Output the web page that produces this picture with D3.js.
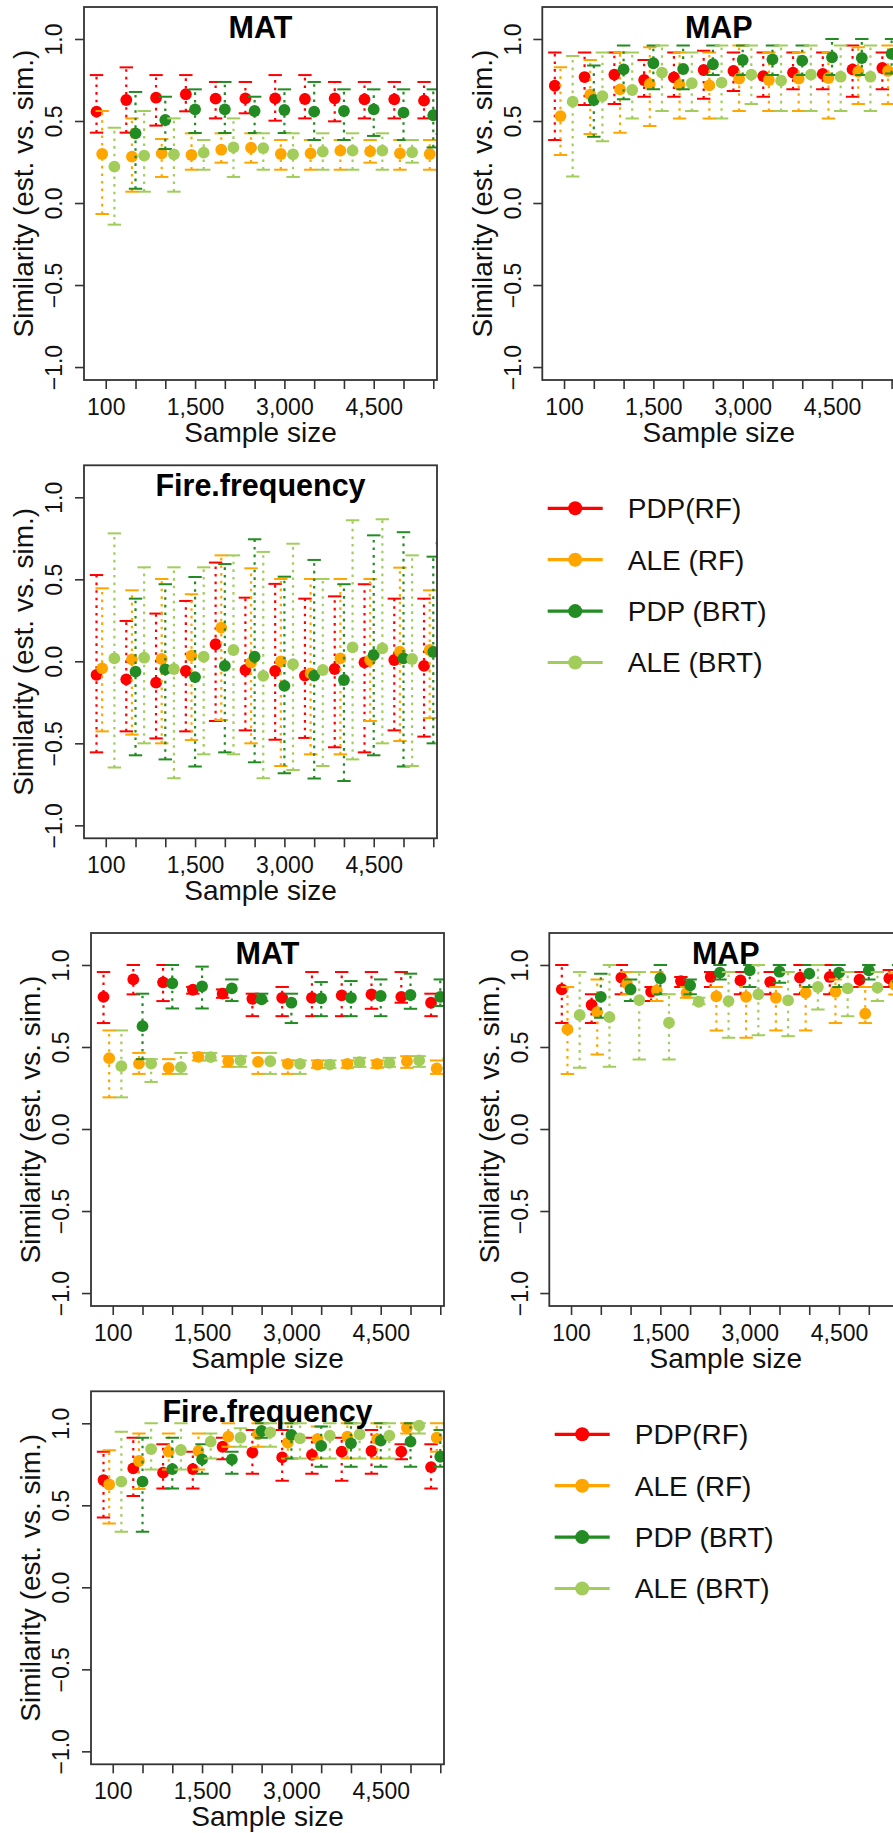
<!DOCTYPE html>
<html>
<head>
<meta charset="utf-8">
<script src="https://cdn.jsdelivr.net/npm/d3@7"></script>
<style>
  body { margin: 0; background: #fff; }
  svg { display: block; font-family: "Liberation Sans", Arial, sans-serif; }
</style>
</head>
<body>
<div class="chart"></div>
<script>
// x categories (one tick each, R only prints some of the labels)
var sampleSizes = [100, 500, 1000, 1500, 2000, 2500, 3000, 3500, 4000, 4500, 5000, 5500];
var labelledSizes = [100, 1500, 3000, 4500];
var yTicks = [-1, -0.5, 0, 0.5, 1];

var seriesNames = ["PDP(RF)", "ALE (RF)", "PDP (BRT)", "ALE (BRT)"];
var seriesColors = ["#ff0000", "#ffa500", "#228b22", "#a2cd5a"];
var seriesOffsets = [-0.31, -0.12, 0, 0.29];

// each entry: [mean, lower, upper] for one sample size, null = no value
// ---- first figure ----
var aMAT_pdpRF = [[0.557,0.429,0.78],[0.628,0.429,0.827],[0.642,0.472,0.78],[0.663,0.559,0.78],[0.636,0.516,0.738],[0.638,0.547,0.738],[0.638,0.502,0.78],[0.634,0.516,0.78],[0.638,0.498,0.738],[0.632,0.516,0.738],[0.632,0.516,0.738],[0.624,0.516,0.738]];
var aMAT_aleRF = [[0.299,-0.067,0.561],[0.283,0.069,0.516],[0.303,0.159,0.39],[0.293,0.203,0.425],[0.325,0.246,0.425],[0.337,0.246,0.425],[0.299,0.203,0.384],[0.303,0.203,0.384],[0.319,0.203,0.384],[0.315,0.246,0.384],[0.303,0.203,0.384],[0.299,0.203,0.384]];
var aMAT_pdpBRT = [null,[0.425,0.087,0.677],[0.506,0.329,0.648],[0.571,0.427,0.693],[0.571,0.427,0.738],[0.561,0.427,0.648],[0.567,0.427,0.693],[0.557,0.384,0.738],[0.561,0.384,0.693],[0.571,0.409,0.693],[0.551,0.384,0.693],[0.535,0.339,0.693]];
var aMAT_aleBRT = [[0.222,-0.132,0.459],[0.289,0.069,0.561],[0.297,0.069,0.516],[0.307,0.203,0.384],[0.339,0.159,0.516],[0.335,0.203,0.425],[0.297,0.159,0.425],[0.313,0.203,0.425],[0.319,0.203,0.425],[0.319,0.203,0.425],[0.309,0.246,0.384],[0.31,0.2,0.42]];

var aMAP_pdpRF = [[0.715,0.384,0.917],[0.768,0.598,0.917],[0.783,0.604,0.917],[0.75,0.648,0.872],[0.766,0.648,0.917],[0.811,0.636,0.929],[0.805,0.683,0.917],[0.774,0.648,0.917],[0.795,0.693,0.917],[0.787,0.693,0.917],[0.815,0.648,0.961],[0.823,0.693,0.917]];
var aMAP_aleRF = [[0.53,0.293,0.827],[0.661,0.42,0.872],[0.693,0.429,0.917],[0.726,0.47,0.949],[0.72,0.516,0.917],[0.717,0.516,0.917],[0.758,0.561,0.961],[0.75,0.561,0.917],[0.758,0.561,0.917],[0.762,0.516,0.917],[0.801,0.604,0.949],[0.805,0.604,0.961]];
var aMAP_pdpBRT = [null,[0.628,0.404,0.839],[0.815,0.632,0.961],[0.852,0.693,0.961],[0.817,0.693,0.961],[0.846,0.78,0.961],[0.872,0.78,0.961],[0.876,0.78,0.961],[0.868,0.78,0.961],[0.888,0.78,1.0],[0.884,0.78,1.0],[0.909,0.79,1.0]];
var aMAP_aleBRT = [[0.618,0.161,0.896],[0.652,0.376,0.917],[0.689,0.516,0.917],[0.795,0.561,0.961],[0.73,0.561,0.917],[0.734,0.516,0.961],[0.783,0.604,0.961],[0.746,0.561,0.961],[0.783,0.561,0.961],[0.77,0.561,0.961],[0.77,0.561,0.961],[0.78,0.6,0.96]];

var aFire_pdpRF = [[-0.083,-0.555,0.526],[-0.11,-0.427,0.246],[-0.13,-0.47,0.291],[-0.059,-0.427,0.368],[0.104,-0.364,0.602],[-0.053,-0.421,0.388],[-0.059,-0.478,0.472],[-0.087,-0.467,0.382],[-0.047,-0.524,0.396],[-0.006,-0.555,0.47],[0.008,-0.421,0.382],[-0.028,-0.459,0.382]];
var aFire_aleRF = [[-0.043,-0.427,0.445],[0.012,-0.447,0.433],[0.014,-0.5,0.502],[0.035,-0.48,0.409],[0.205,-0.358,0.646],[-0.008,-0.5,0.567],[0.0,-0.638,0.502],[-0.073,-0.567,0.502],[0.018,-0.567,0.502],[0.008,-0.364,0.502],[0.059,-0.486,0.571],[0.069,-0.346,0.433]];
var aFire_pdpBRT = [null,[-0.063,-0.573,0.382],[-0.049,-0.598,0.47],[-0.096,-0.642,0.514],[-0.028,-0.555,0.593],[0.028,-0.616,0.744],[-0.15,-0.683,0.516],[-0.087,-0.715,0.618],[-0.114,-0.73,0.47],[0.039,-0.573,0.768],[0.018,-0.642,0.787],[0.057,-0.5,0.638]];
var aFire_aleBRT = [[0.018,-0.648,0.78],[0.022,-0.5,0.573],[-0.047,-0.713,0.573],[0.028,-0.567,0.573],[0.069,-0.567,0.646],[-0.089,-0.713,0.667],[-0.018,-0.663,0.717],[-0.053,-0.638,0.502],[0.085,-0.598,0.86],[0.079,-0.5,0.866],[0.014,-0.638,0.646],[0.0,-0.5,0.72]];

// ---- second figure ----
var bMAT_pdpRF = [[0.806,0.646,0.957],[0.912,0.821,1.0],[0.894,0.78,1.0],[0.849,0.825,0.866],[0.825,0.8,0.851],[0.794,0.688,0.825],[0.8,0.688,0.866],[0.8,0.688,0.957],[0.815,0.688,0.957],[0.821,0.733,0.957],[0.806,0.77,0.957],[0.77,0.688,0.825]];
var bMAT_aleRF = [[0.432,0.193,0.601],[0.399,0.336,0.464],[0.373,0.336,0.426],[0.44,0.418,0.464],[0.413,0.379,0.444],[0.409,0.336,0.464],[0.397,0.336,0.418],[0.393,0.373,0.418],[0.397,0.373,0.418],[0.397,0.373,0.418],[0.413,0.373,0.444],[0.369,0.336,0.418]];
var bMAT_pdpBRT = [null,[0.627,0.426,0.825],[0.888,0.735,1.0],[0.87,0.735,0.99],[0.857,0.78,0.912],[0.79,0.78,0.825],[0.77,0.646,0.825],[0.796,0.688,0.896],[0.8,0.688,0.902],[0.811,0.688,0.912],[0.817,0.733,0.947],[0.806,0.75,0.912]];
var bMAT_aleBRT = [[0.383,0.193,0.601],[0.399,0.287,0.426],[0.377,0.336,0.464],[0.438,0.418,0.464],[0.418,0.379,0.444],[0.413,0.336,0.464],[0.397,0.336,0.418],[0.393,0.373,0.418],[0.407,0.379,0.434],[0.403,0.379,0.434],[0.418,0.379,0.444],[0.4,0.37,0.43]];

var bMAP_pdpRF = [[0.851,0.646,1.0],[0.756,0.646,0.821],[0.923,0.821,1.0],[0.837,0.78,0.866],[0.902,0.866,0.927],[0.927,0.866,0.957],[0.906,0.821,0.957],[0.896,0.821,0.957],[0.923,0.821,1.0],[0.927,0.821,1.0],[0.91,0.866,0.957],[0.919,0.866,0.97]];
var bMAP_aleRF = [[0.607,0.336,0.866],[0.713,0.454,0.912],[0.886,0.821,0.957],[0.845,0.78,0.957],[0.829,0.8,0.866],[0.809,0.601,0.866],[0.806,0.556,0.866],[0.8,0.601,0.866],[0.831,0.601,0.866],[0.837,0.646,0.912],[0.703,0.646,0.866],[0.878,0.82,0.95]];
var bMAP_pdpBRT = [null,[0.806,0.678,0.947],[0.851,0.78,0.912],[0.919,0.821,1.0],[0.876,0.821,0.912],[0.953,0.912,1.0],[0.967,0.866,1.0],[0.959,0.892,1.0],[0.947,0.866,1.0],[0.953,0.866,1.0],[0.967,0.912,1.0],[0.96,0.9,1.0]];
var bMAP_aleBRT = [[0.695,0.373,0.957],[0.682,0.379,1.0],[0.786,0.424,0.957],[0.648,0.424,0.821],[0.776,0.76,0.8],[0.78,0.556,0.957],[0.821,0.572,1.0],[0.784,0.566,0.957],[0.866,0.729,1.0],[0.857,0.688,0.957],[0.862,0.78,0.957],[0.86,0.78,0.96]];

var bFire_pdpRF = [[0.654,0.426,0.827],[0.725,0.556,0.912],[0.699,0.603,0.872],[0.721,0.603,0.827],[0.857,0.78,0.912],[0.823,0.692,0.959],[0.792,0.65,0.959],[0.807,0.692,0.912],[0.827,0.65,0.912],[0.831,0.692,0.959],[0.827,0.78,0.872],[0.733,0.603,0.872]];
var bFire_aleRF = [[0.627,0.389,0.835],[0.77,0.6,0.937],[0.827,0.719,0.937],[0.831,0.719,0.937],[0.919,0.857,1.0],[0.933,0.857,1.0],[0.882,0.786,1.0],[0.904,0.786,0.98],[0.919,0.786,1.0],[0.904,0.786,1.0],[0.974,0.937,1.0],[0.912,0.827,1.0]];
var bFire_pdpBRT = [null,[0.644,0.338,0.912],[0.721,0.603,0.912],[0.78,0.692,0.872],[0.78,0.692,0.827],[0.953,0.912,1.0],[0.929,0.786,1.0],[0.862,0.735,0.98],[0.878,0.735,1.0],[0.894,0.735,1.0],[0.888,0.735,1.0],[0.796,0.735,0.959]];
var bFire_aleBRT = [[0.644,0.338,0.949],[0.843,0.719,1.0],[0.837,0.719,1.0],[0.888,0.786,0.937],[0.912,0.857,0.969],[0.945,0.857,1.0],[0.908,0.786,1.0],[0.925,0.786,1.0],[0.933,0.786,1.0],[0.925,0.786,1.0],[0.986,0.937,1.0],[0.95,0.86,1.0]];

// two copies of the same 2x2 layout (3 panels + legend)
var figures = [
  { x: 0, y: 0, panels: [
    { title: "MAT", series: [aMAT_pdpRF, aMAT_aleRF, aMAT_pdpBRT, aMAT_aleBRT] },
    { title: "MAP", series: [aMAP_pdpRF, aMAP_aleRF, aMAP_pdpBRT, aMAP_aleBRT] },
    { title: "Fire.frequency", series: [aFire_pdpRF, aFire_aleRF, aFire_pdpBRT, aFire_aleBRT] }
  ]},
  { x: 7, y: 926, panels: [
    { title: "MAT", series: [bMAT_pdpRF, bMAT_aleRF, bMAT_pdpBRT, bMAT_aleBRT] },
    { title: "MAP", series: [bMAP_pdpRF, bMAP_aleRF, bMAP_pdpBRT, bMAP_aleBRT] },
    { title: "Fire.frequency", series: [bFire_pdpRF, bFire_aleRF, bFire_pdpBRT, bFire_aleBRT] }
  ]}
];

var svgWidth = 893, svgHeight = 1833;
var panelW = 353, panelH = 373;
var slots = [[84, 7], [542.3, 7], [84, 465.3]];

var svg = d3.select(".chart").append("svg")
  .attr("width", svgWidth)
  .attr("height", svgHeight);
svg.append("rect").attr("width", svgWidth).attr("height", svgHeight).attr("fill", "#fff");

var xScale = d3.scaleLinear().domain([0.27, 12.125]).range([0, panelW]);
var yScale = d3.scaleLinear().domain([-1.079, 1.195]).range([panelH, 0]);

var clipCount = 0;

function drawPanel(ox, oy, panel) {
  var g = svg.append("g").attr("transform", `translate(${ox}, ${oy})`);
  var clipId = "clip" + (clipCount++);
  g.append("clipPath").attr("id", clipId)
    .append("rect").attr("width", panelW).attr("height", panelH);

  // x axis: a tick per sample size, label only some
  var xAxis = d3.axisBottom(xScale)
    .tickValues(d3.range(1, sampleSizes.length + 1))
    .tickSize(9)
    .tickFormat(i => {
      var n = sampleSizes[i - 1];
      return labelledSizes.indexOf(n) >= 0 ? d3.format(",")(n) : "";
    });
  var xg = g.append("g").attr("transform", `translate(0, ${panelH})`).call(xAxis);
  xg.select(".domain").remove();
  xg.selectAll("line").attr("stroke", "#333").attr("stroke-width", 1.6);
  xg.selectAll("text").attr("y", 35).attr("dy", null)
    .attr("font-size", 23).attr("font-family", "Liberation Sans, Arial, sans-serif").attr("fill", "#111");

  // y axis with labels parallel to the axis
  var yAxis = d3.axisLeft(yScale).tickValues(yTicks).tickSize(9).tickFormat(d3.format(".1f"));
  var yg = g.append("g").call(yAxis);
  yg.select(".domain").remove();
  yg.selectAll("line").attr("stroke", "#333").attr("stroke-width", 1.6);
  yg.selectAll("text")
    .attr("x", null).attr("dy", null)
    .attr("text-anchor", "middle")
    .attr("transform", "translate(-21.7, 0) rotate(-90)")
    .attr("font-size", 23).attr("font-family", "Liberation Sans, Arial, sans-serif").attr("fill", "#111");

  // error bars and points, series in order
  var plot = g.append("g").attr("clip-path", `url(#${clipId})`);
  panel.series.forEach(function(values, s) {
    var pts = [];
    values.forEach(function(v, i) {
      if (v) pts.push({ x: i + 1 + seriesOffsets[s], mean: v[0], lo: v[1], hi: v[2] });
    });
    var col = seriesColors[s];
    var sg = plot.append("g");
    sg.selectAll(".bar").data(pts).enter().append("line")
      .attr("x1", d => xScale(d.x)).attr("x2", d => xScale(d.x))
      .attr("y1", d => yScale(d.lo)).attr("y2", d => yScale(d.hi))
      .attr("stroke", col).attr("stroke-width", 2.2)
      .attr("stroke-dasharray", "2.6,5");
    ["lo", "hi"].forEach(function(k) {
      sg.selectAll(".cap-" + k).data(pts).enter().append("line")
        .attr("x1", d => xScale(d.x) - 6.7).attr("x2", d => xScale(d.x) + 6.7)
        .attr("y1", d => yScale(d[k])).attr("y2", d => yScale(d[k]))
        .attr("stroke", col).attr("stroke-width", 2);
    });
    sg.selectAll("circle").data(pts).enter().append("circle")
      .attr("cx", d => xScale(d.x))
      .attr("cy", d => yScale(d.mean))
      .attr("r", 5.9)
      .attr("fill", col);
  });

  // box
  g.append("rect").attr("width", panelW).attr("height", panelH)
    .attr("fill", "none").attr("stroke", "#333").attr("stroke-width", 1.8);

  // title inside the box
  g.append("text")
    .attr("x", panelW / 2).attr("y", 30.5)
    .attr("text-anchor", "middle")
    .attr("font-size", 30.5).attr("font-weight", "bold")
    .attr("fill", "#000")
    .text(panel.title);

  // axis titles
  g.append("text")
    .attr("x", panelW / 2).attr("y", panelH + 62)
    .attr("text-anchor", "middle")
    .attr("font-size", 28).attr("fill", "#111")
    .text("Sample size");
  g.append("text")
    .attr("transform", `translate(-50.7, ${panelH / 2}) rotate(-90)`)
    .attr("text-anchor", "middle")
    .attr("font-size", 28).attr("fill", "#111")
    .text("Similarity (est. vs. sim.)");
}

function drawLegend(ox, oy) {
  var lg = svg.append("g").attr("transform", `translate(${ox}, ${oy})`);
  seriesNames.forEach(function(name, i) {
    var y = i * 51.4;
    lg.append("line").attr("x1", 0).attr("x2", 55).attr("y1", y).attr("y2", y)
      .attr("stroke", seriesColors[i]).attr("stroke-width", 3.2);
    lg.append("circle").attr("cx", 27.5).attr("cy", y).attr("r", 7).attr("fill", seriesColors[i]);
    lg.append("text").attr("x", 80).attr("y", y + 10)
      .attr("font-size", 28).attr("fill", "#111").text(name);
  });
}

figures.forEach(function(fig) {
  fig.panels.forEach(function(p, k) {
    drawPanel(fig.x + slots[k][0], fig.y + slots[k][1], p);
  });
  drawLegend(fig.x + 547.7, fig.y + 508.3);
});
</script>
</body>
</html>
